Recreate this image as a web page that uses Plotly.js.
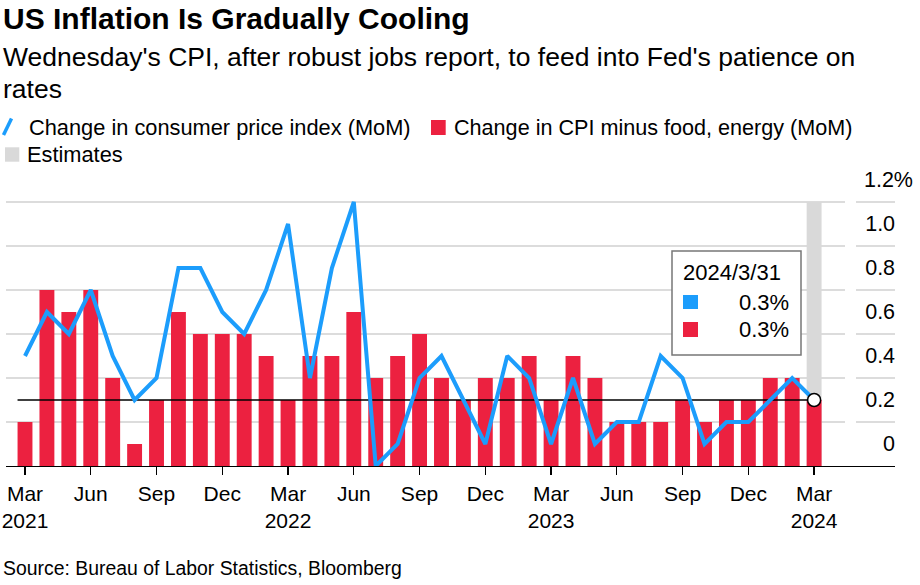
<!DOCTYPE html>
<html>
<head>
<meta charset="utf-8">
<script src="https://cdn.plot.ly/plotly-3.0.1.min.js"></script>
<style>html,body{margin:0;padding:0;background:#fff;}#chart{width:920px;height:585px;}</style>
</head>
<body>
<div id="chart"></div>
<script>
// ---- data ----
const months = ["2021-03","2021-04","2021-05","2021-06","2021-07","2021-08","2021-09","2021-10","2021-11","2021-12",
  "2022-01","2022-02","2022-03","2022-04","2022-05","2022-06","2022-07","2022-08","2022-09","2022-10","2022-11","2022-12",
  "2023-01","2023-02","2023-03","2023-04","2023-05","2023-06","2023-07","2023-08","2023-09","2023-10","2023-11","2023-12",
  "2024-01","2024-02","2024-03"];
const cpiMoM = [0.5,0.7,0.6,0.8,0.5,0.3,0.4,0.9,0.9,0.7,0.6,0.8,1.1,0.4,0.9,1.2,0.0,0.1,0.4,0.5,0.3,0.1,0.5,0.4,0.1,0.4,0.1,0.2,0.2,0.5,0.4,0.1,0.2,0.2,0.3,0.4,0.3];
const coreMoM = [0.2,0.8,0.7,0.8,0.4,0.1,0.3,0.7,0.6,0.6,0.6,0.5,0.3,0.5,0.5,0.7,0.4,0.5,0.6,0.4,0.3,0.4,0.4,0.5,0.3,0.5,0.4,0.2,0.2,0.2,0.3,0.2,0.3,0.3,0.4,0.4,0.3];
const estimateMonths = ["2024-03"];
const estimateTop = [1.2];
const xTickMonths = ["2021-03","2021-06","2021-09","2021-12","2022-03","2022-06","2022-09","2022-12","2023-03","2023-06","2023-09","2023-12","2024-03"];
const xTickText = ["Mar<br>2021","Jun","Sep","Dec","Mar<br>2022","Jun","Sep","Dec","Mar<br>2023","Jun","Sep","Dec","Mar<br>2024"];
const yTickVals = [0,0.2,0.4,0.6,0.8,1.0,1.2];
const yTickText = ["0","0.2","0.4","0.6","0.8","1.0","1.2%"];
const hoverDate = "2024/3/31";

// ---- styling ----
const FONT = "Liberation Sans, Arial, Helvetica, sans-serif";
const BLUE = "#1c9dfc", RED = "#ec2140", GRAY = "#d9d9d9", GRID = "#dcdcdc";
const W = 920, H = 585, L = 6, R = 895, T = 191, B = 466;
const barWidth = 0.68;
const idx = m => months.indexOf(m);
const xs = months.map((m, i) => i);
const last = months.length - 1;
const pxX = p => (p - L) / (R - L);
const pxY = p => (B - p) / (B - T);
const xr0 = (L - 25) / 21.92, xr1 = (R - 25) / 21.92;
const xData = p => xr0 + (p - L) / (R - L) * (xr1 - xr0);

const traces = [
  {type:'bar', x: estimateMonths.map(idx), y: estimateTop, width: barWidth,
   marker:{color:GRAY, line:{width:0}}, hoverinfo:'skip', showlegend:false},
  {type:'bar', x: xs, y: coreMoM, width: barWidth,
   marker:{color:RED, line:{width:0}}, showlegend:false},
  {type:'scatter', mode:'lines', x:[-barWidth/2, last], y:[cpiMoM[last], cpiMoM[last]],
   line:{color:'#000', width:1.3}, hoverinfo:'skip', showlegend:false},
  {type:'scatter', mode:'lines', x: xs, y: cpiMoM, cliponaxis:false,
   line:{color:BLUE, width:4}, showlegend:false},
  {type:'scatter', mode:'markers', x:[last], y:[cpiMoM[last]], cliponaxis:false,
   marker:{size:13, color:'#fff', line:{color:'#000', width:1.5}}, showlegend:false}
];

const yText = yTickText.map(t => t.endsWith('%') ? t : t + '\u00a0\u00a0\u00a0');

const ann = (text, xp, yp, size, anchor, extra) => Object.assign({
  text: text, xref:'paper', yref:'paper', x: pxX(xp), y: pxY(yp), xanchor: anchor || 'left', yanchor:'middle',
  showarrow:false, font:{family:FONT, size:size, color:'#000'}, borderpad:0
}, extra || {});

const rectPx = (x0, y0, x1, y1, fill, line) => ({type:'rect', xref:'paper', yref:'paper',
  x0:pxX(x0), x1:pxX(x1), y0:pxY(y0), y1:pxY(y1), fillcolor:fill, line: line || {width:0}, layer:'above'});

const layout = {
  width: W, height: H,
  margin:{l:L, r:W-R, t:T, b:H-B, pad:0},
  paper_bgcolor:'#fff', plot_bgcolor:'#fff',
  font:{family:FONT, color:'#000'},
  barmode:'overlay',
  title:{text:'US Inflation Is Gradually Cooling', xref:'container', yref:'container',
    x: 3/W, xanchor:'left', y: 1 - 18.3/H, yanchor:'middle', pad:{t:0,b:0,l:0,r:0},
    font:{family:FONT, size:30, weight:700, color:'#000'}},
  xaxis:{range:[xr0, xr1], tickvals: xTickMonths.map(idx), ticktext: xTickText,
    ticks:'outside', ticklen:8, tickwidth:1.3, tickcolor:'#000',
    showline:true, linecolor:'#000', linewidth:1.3, showgrid:false, zeroline:false,
    tickfont:{family:FONT, size:21, color:'#000'}, fixedrange:true},
  yaxis:{range:[0, 1.25], side:'right', tickvals: yTickVals, ticktext: yText,
    ticklabelposition:'inside', ticklabelshift:-23, ticklabelstandoff:-21, ticklabeloverflow:'allow',
    ticks:'', showline:false, showgrid:true, gridcolor:GRID, gridwidth:1.3, zeroline:false,
    tickfont:{family:FONT, size:21.5, color:'#000'}, fixedrange:true},
  shapes:[
    // gap in gridlines before labels
    {type:'rect', xref:'x', yref:'y', x0:xData(845), x1:xData(856), y0:0.02, y1:1.25,
     fillcolor:'#fff', line:{width:0}, layer:'between'},
    // legend icons
    {type:'line', xref:'paper', yref:'paper', x0:pxX(3.5), y0:pxY(135), x1:pxX(11.5), y1:pxY(118.5),
     line:{color:BLUE, width:3.5}, layer:'above'},
    rectPx(431, 120, 445.7, 135, RED),
    rectPx(5, 147.3, 19.3, 161.7, GRAY),
    // hover box
    rectPx(672, 251, 801, 355, '#fff', {color:'#777', width:1.5}),
    rectPx(683, 295, 698, 309, BLUE),
    rectPx(683, 322, 698, 337, RED)
  ],
  annotations:[
    ann("Wednesday's CPI, after robust jobs report, to feed into Fed's patience on", 2, 57.2, 26.5),
    ann("rates", 2, 89, 26.5),
    ann("Change in consumer price index (MoM)", 28, 127.7, 21.8),
    ann("Change in CPI minus food, energy (MoM)", 452.5, 127.7, 21.6),
    ann("Estimates", 25.5, 154.5, 21.8),
    ann(hoverDate, 682, 272.5, 22),
    ann(cpiMoM[last].toFixed(1) + '%', 790, 302, 22, 'right'),
    ann(coreMoM[last].toFixed(1) + '%', 790, 329.5, 22, 'right'),
    ann("Source: Bureau of Labor Statistics, Bloomberg", 2, 567.5, 19.4)
  ]
};

Plotly.newPlot('chart', traces, layout, {displayModeBar:false, staticPlot:true});
</script>
</body>
</html>
